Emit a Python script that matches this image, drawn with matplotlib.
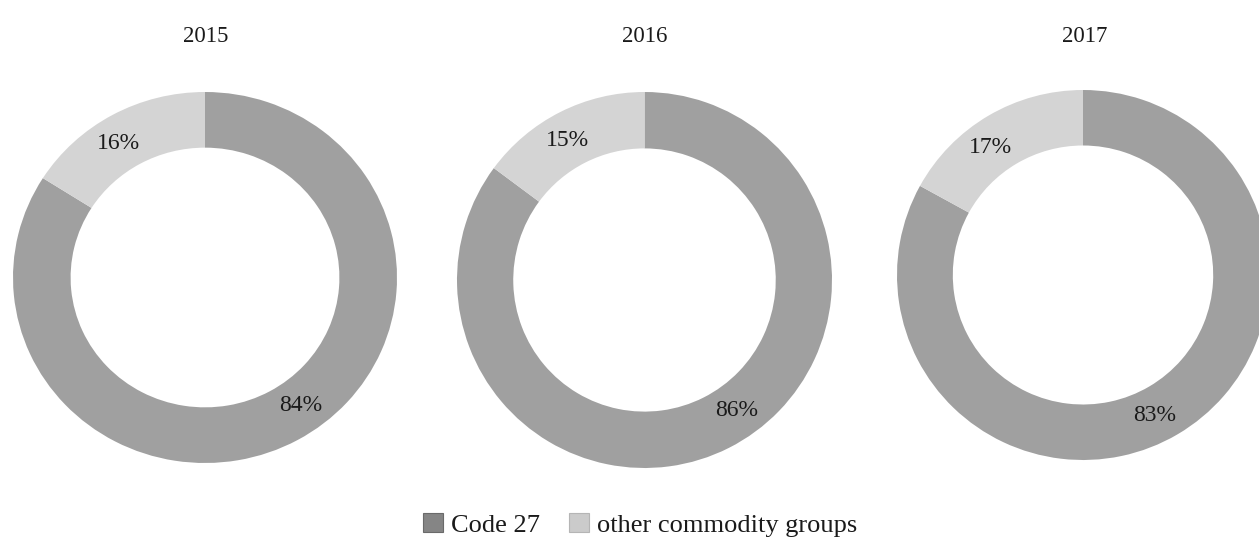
import matplotlib
matplotlib.use("Agg")
import matplotlib.pyplot as plt
from matplotlib.patches import Patch
import numpy as np

# Shares of exports by commodity group, per year
years = ["2015", "2016", "2017"]
code27_share = [84, 86, 83]
other_share = [16, 15, 17]
series_names = ["Code 27", "other commodity groups"]

ring_colors = ["#a0a0a0", "#d4d4d4"]
legend_colors = ["#858585", "#cbcbcb"]

plt.rcParams["font.family"] = ["Liberation Serif", "DejaVu Serif"]

W, H = 1259, 541
fig = plt.figure(figsize=(W / 100, H / 100), dpi=100)
fig.patch.set_facecolor("white")

# Pixel boxes (left, top, width, height) of each donut and its title x
boxes = [(13, 92, 384, 371), (457, 92, 375, 376), (897, 90, 372, 370)]
title_x = [206, 645, 1085]
# label angles (deg) for [Code 27, other] labels
label_angles = [(-54, 122), (-54.5, 119), (-63, 126)]
label_r = 0.85

for i, year in enumerate(years):
    l, t, w, h = boxes[i]
    ax = fig.add_axes([l / W, 1 - (t + h) / H, w / W, h / H])
    vals = [code27_share[i], other_share[i]]
    ax.pie(vals, colors=ring_colors, startangle=90, counterclock=False,
           radius=1.0, wedgeprops=dict(width=0.30, linewidth=0))
    ax.set_aspect("auto")
    ax.set_xlim(-1, 1)
    ax.set_ylim(-1, 1)
    ax.axis("off")
    for v, ang in zip(vals, label_angles[i]):
        a = np.deg2rad(ang)
        ax.text(label_r * np.cos(a), label_r * np.sin(a), f"{v}%",
                ha="center", va="center", fontsize=17, color="#1a1a1a")
    fig.text(title_x[i] / W, 1 - 37 / H, year, ha="center", va="center",
             fontsize=16.5, color="#1a1a1a")

handles = [Patch(facecolor=c, edgecolor="#6a6a6a" if k == 0 else "#b5b5b5",
                 linewidth=0.8) for k, c in enumerate(legend_colors)]
fig.legend(handles, series_names, loc="center", ncol=2,
           bbox_to_anchor=(640 / W, 1 - 525 / H), frameon=False,
           fontsize=19, handlelength=0.75, handleheight=0.75,
           handletextpad=0.3, columnspacing=1.1, borderpad=0,
           labelcolor="#1a1a1a")

fig.savefig("out.png", dpi=100, facecolor="white")
